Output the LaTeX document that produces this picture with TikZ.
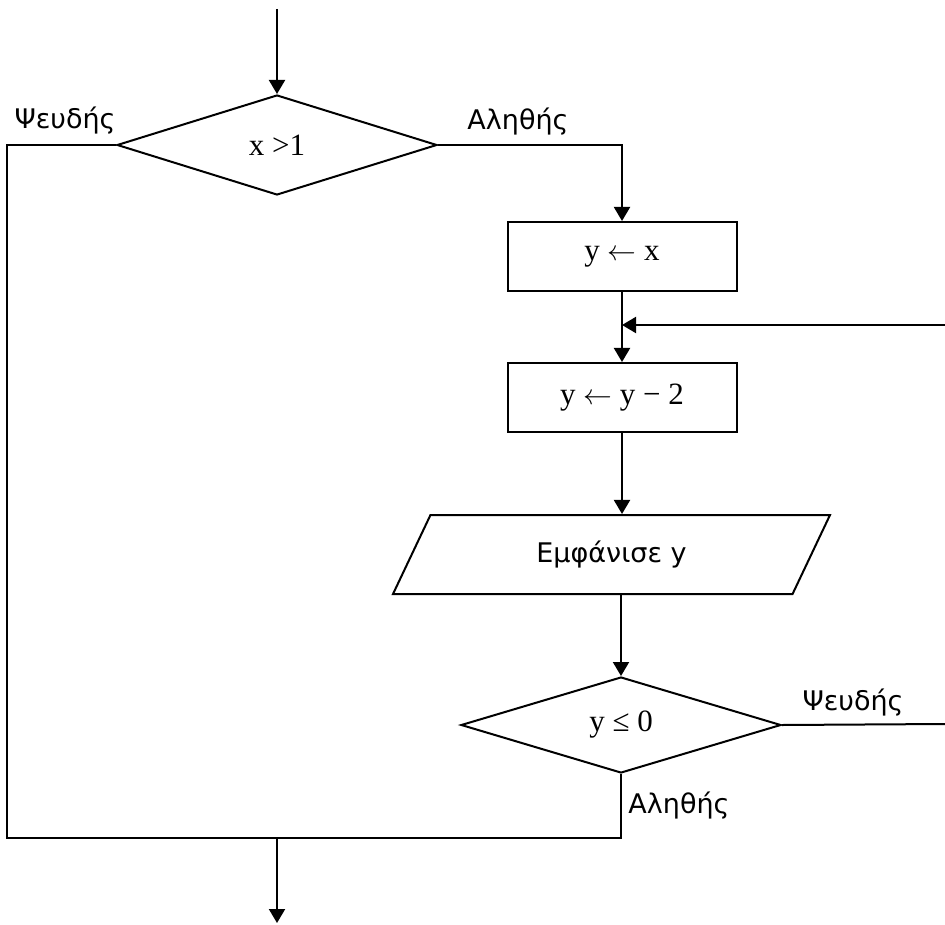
\documentclass[tikz,border=0pt]{standalone}
\usepackage{fontspec}
\setmainfont{Liberation Serif}
\newfontfamily\lblfont{DejaVu Sans}
\usetikzlibrary{arrows.meta, shapes.geometric, positioning, calc}
\tikzset{
  decbox/.style={diamond,draw,line width=1pt,minimum width=160pt,minimum height=50pt,inner sep=0pt,font=\fontsize{15.5}{18}\selectfont},
  procbox/.style={rectangle,draw,line width=1pt,minimum width=114.5pt,minimum height=34.5pt,inner sep=0pt,font=\fontsize{15.5}{18}\selectfont},
  iobox/.style={trapezium,trapezium left angle=36,trapezium right angle=144,trapezium stretches body,draw,line width=1pt,minimum width=218.5pt,minimum height=39.5pt,inner sep=0pt,font=\lblfont\fontsize{13.5}{16}\selectfont},
  lbl/.style={inner sep=0pt,font=\lblfont\fontsize{13.5}{16}\selectfont},
  arr/.style={-{Triangle[length=7pt,width=8pt]},line width=1pt},
  flow/.style={line width=1pt}
}

\begin{document}
\begin{tikzpicture}[x=0.5pt,y=-0.5pt]
  \useasboundingbox (0,0) rectangle (945,924);

  \node[decbox] (cond1) at (277,145) {x >1};
  \node[procbox] (box1) at (622,256.5) {y $\leftarrow$ x};
  \node[procbox] (box2) at (622,397.5) {y $\leftarrow$ y − 2};
  \node[iobox] (out) at (611.5,554.5) {Εμφάνισε y};
  \node[decbox, minimum height=48pt] (cond2) at (621,725) {y ≤ 0};

  \coordinate (entry) at (277,9);
  \coordinate (loopin) at (945,325);
  \coordinate (loopout) at (945,724);
  \coordinate (joinL) at (7,838);
  \coordinate (exit) at (277,923);

  % labels of the decisions
  \node[lbl] (f1) at (65,121) {Ψευδής};
  \node[lbl] (t1) at (518,122) {Αληθής};
  \node[lbl] (f2) at (853,703) {Ψευδής};
  \node[lbl] (t2) at (679,806) {Αληθής};

  \draw[arr] (entry) -- (cond1.north);
  \draw[arr] (cond1.east) -| (box1.north);
  \draw[arr] (box1.south) -- (box2.north);
  \draw[arr] (loopin) -- (loopin -| box1.south);
  \draw[arr] (box2.south) -- (box2.south |- out.north);
  \draw[arr] (cond2.north |- out.south) -- (cond2.north);
  \draw[flow] (cond2.east) -- (loopout);

  % both exits meet below
  \draw[flow] (cond1.west) -- (cond1.west -| joinL) -- (joinL) -- (cond2.south |- joinL) -- (cond2.south);
  \draw[arr] (exit |- joinL) -- (exit);
\end{tikzpicture}
\end{document}
